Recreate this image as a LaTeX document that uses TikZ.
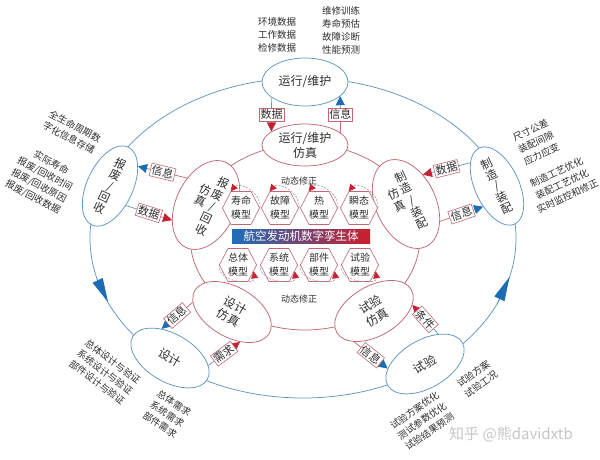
\documentclass[tikz,border=0pt]{standalone}
\usepackage{fontspec}
\setmainfont{Noto Sans CJK SC}
\usetikzlibrary{arrows.meta,shapes.geometric,shapes.symbols}
\definecolor{outerblue}{RGB}{96,150,196}
\definecolor{innerred}{RGB}{192,104,116}
\definecolor{arrowblue}{RGB}{28,108,178}
\definecolor{arrowred}{RGB}{196,34,48}
\definecolor{txt}{RGB}{45,45,45}
\definecolor{dashgray}{RGB}{150,150,150}
\definecolor{barblue}{RGB}{28,110,186}
\definecolor{barred}{RGB}{204,30,44}
\newcommand{\fsz}[2]{\fontsize{#1}{#2}\selectfont}
\newcommand{\vcols}[7]{\renewcommand{\arraystretch}{0.92}\begin{tabular}{@{}c@{\hspace{1.5pt}}c@{}} & #3\\ #1 & #4\\ #2 & #5\\ & #6\\ & #7\end{tabular}}
\tikzset{
 ringblue/.style={draw=outerblue, line width=0.75pt},
 ringred/.style={draw=innerred, line width=0.75pt},
 outernode/.style={ellipse, draw=outerblue, line width=0.75pt, fill=white, inner sep=0pt, text=txt, font=\fsz{12}{14}, align=center},
 innernode/.style={ellipse, draw=innerred, line width=0.75pt, fill=white, inner sep=0pt, text=txt, font=\fsz{12}{15}, align=center},
 vstack/.style={font=\fsz{11.5}{12}},
 lbl/.style={draw=innerred, fill=white, line width=0.6pt, inner sep=1.3pt, text=txt, font=\fsz{11}{11}},
 tored/.style={draw=outerblue, line width=0.7pt, -{Triangle[length=9pt,width=9pt,color=arrowred]}},
 toblue/.style={draw=innerred, line width=0.7pt, -{Triangle[length=9pt,width=9pt,color=arrowblue]}},
 hexnode/.style={signal, signal to=east and west, signal pointer angle=125, draw=innerred, fill=white, line width=0.6pt, minimum width=34pt, minimum height=33pt, inner sep=0pt, align=center, text=txt, font=\fsz{10}{14}},
 dasharc/.style={draw=dashgray, line width=0.6pt, dash pattern=on 2pt off 1.5pt, -{Triangle[length=7pt,width=7pt,color=arrowred]}},
 anno/.style={text=txt, font=\fsz{9.5}{13}, align=center, inner sep=0pt},
 bar/.style={rectangle, left color=barblue, right color=barred, minimum width=138pt, minimum height=14pt, inner sep=0pt, text=white, font=\fsz{11.5}{12}},
 ringtip/.style={draw=outerblue, line width=0.75pt, -{Triangle[length=24pt,width=11pt,color=arrowblue]}},
}
\begin{document}
\begin{tikzpicture}[x=1pt,y=-1pt]
\useasboundingbox (0,0) rectangle (600,459);
% rings
\draw[ringblue] (303,238) ellipse (213pt and 160pt);
\draw[ringred] (305,237) ellipse (115pt and 93pt);
\coordinate (lA) at (97,279); \coordinate (lB) at (108,302);
\coordinate (rA) at (497,304); \coordinate (rB) at (509.5,277);
\draw[ringtip] (lA) -- (lB);
\draw[ringtip] (rA) -- (rB);
% outer nodes
\node[outernode, minimum width=86pt, minimum height=48pt] (yw) at (305,82) {运行/维护};
\node[outernode, vstack, minimum width=46pt, minimum height=86pt, rotate=-25] (bf) at (110,186) {报\\废\\/\\回\\收};
\node[outernode, vstack, minimum width=44pt, minimum height=84pt, rotate=25] (zz) at (497,186) {制\\造\\/\\装\\配};
\node[outernode, minimum width=86pt, minimum height=48pt, rotate=-30] (sj) at (170,358) {设计};
\node[outernode, minimum width=86pt, minimum height=48pt, rotate=30] (sy) at (425,364) {试验};
% inner nodes
\node[innernode, minimum width=86pt, minimum height=42pt] (yf) at (305,145) {运行/维护\\仿真};
\node[innernode, vstack, minimum width=60pt, minimum height=94pt, rotate=-25] (bff) at (206,205) {\vcols{仿}{真}{报}{废}{/}{回}{收}};
\node[innernode, vstack, minimum width=60pt, minimum height=94pt, rotate=25] (zzf) at (406,204) {\vcols{仿}{真}{制}{造}{/}{装}{配}};
\node[innernode, minimum width=86pt, minimum height=50pt, rotate=-30, font=\fsz{12}{14}] (sjf) at (232,312) {设计\\仿真};
\node[innernode, minimum width=86pt, minimum height=50pt, rotate=30, font=\fsz{12}{14}] (syf) at (374,311) {试验\\仿真};
% centre
\node[bar] (dt) at (301,236) {航空发动机数字孪生体};
\node[hexnode] (h1) at (241,208) {寿命\\模型};
\node[hexnode] (h2) at (280,208) {故障\\模型};
\node[hexnode] (h3) at (319,208) {热\\模型};
\node[hexnode] (h4) at (359,208) {瞬态\\模型};
\node[hexnode] (b1) at (238,265) {总体\\模型};
\node[hexnode] (b2) at (279,265) {系统\\模型};
\node[hexnode] (b3) at (319,265) {部件\\模型};
\node[hexnode] (b4) at (360,265) {试验\\模型};
\foreach \h in {h1,h2,h3,h4}{
  \draw[dasharc] (\h.east) .. controls +(2,-16) and +(8,-10) .. (\h.122);
}
\foreach \h in {b1,b2,b3,b4}{
  \draw[dasharc] (\h.west) .. controls +(-2,18) and +(2,14) .. (\h.-22);
}
\node[anno, font=\fsz{9}{10}] (dx1) at (299,181) {动态修正};
\node[anno, font=\fsz{9}{10}] (dx2) at (299,299) {动态修正};
% connectors
\draw[tored] (yw.205) -- node[lbl] {数据} (yf.158);
\draw[toblue] (yf.19) -- node[lbl] {信息} (yw.-22);
\draw[toblue] (bff.150) -- node[lbl,sloped] {信息} (bf.60);
\draw[tored] (bf.-26) -- node[lbl,sloped] {数据} (bff.229);
\draw[tored] (zz.114) -- node[lbl,sloped] {数据} (zzf.35);
\draw[toblue] (zzf.-52) -- node[lbl,sloped] {信息} (zz.211);
\draw[toblue] (sjf.196) -- node[lbl,sloped] {信息} (sj.136);
\draw[tored] (sj.19) -- node[lbl,sloped] {需求} (sjf.-45);
\draw[tored] (sy.36) -- node[lbl,sloped] {条件} (syf.-21);
\draw[toblue] (syf.207) -- node[lbl,sloped] {信息} (sy.157);
% annotations
\node[anno] (a1) at (277,35) {环境数据\\工作数据\\检修数据};
\node[anno] (a2) at (341,30) {维修训练\\寿命预估\\故障诊断\\性能预测};
\node[anno, rotate=-28] (a3) at (72,132) {全生命周期数\\字化信息存储};
\node[anno, rotate=-28] (a4) at (42,180) {实际寿命\\报废/回收时间\\报废/回收原因\\报废/回收数据};
\node[anno, rotate=25] (a5) at (536,142) {尺寸公差\\装配间隙\\应力应变};
\node[anno, rotate=25] (a6) at (562,184) {制造工艺优化\\装配工艺优化\\实时监控和修正};
\node[anno, rotate=-37] (a7) at (105,372) {总体设计与验证\\系统设计与验证\\部件设计与验证};
\node[anno, rotate=-33] (a8) at (167,414) {总体需求\\系统需求\\部件需求};
\node[anno, rotate=35] (a9) at (477,379) {试验方案\\试验工况};
\node[anno, rotate=35] (a10) at (422,421) {试验方案优化\\测试参数优化\\试验结果预测};
\node[font=\fsz{15}{15}, text=gray!45] (wm) at (511,434) {知乎 @熊davidxtb};
\end{tikzpicture}
\end{document}
